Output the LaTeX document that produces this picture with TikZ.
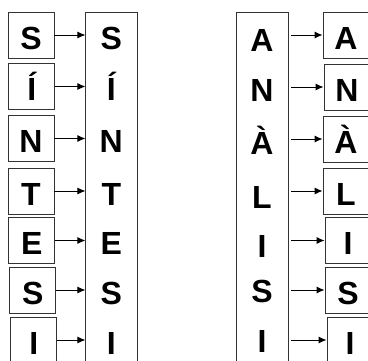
\documentclass[tikz,border=0pt]{standalone}
\usepackage{fontspec}
\setmainfont{Liberation Sans}
\usetikzlibrary{arrows.meta, positioning}

\begin{document}
\begin{tikzpicture}[x=1pt, y=-1pt, >={Latex[length=8pt, width=7pt]},
    letter/.style={font=\fontsize{32}{38}\selectfont\bfseries, text height=28pt, text depth=0pt, inner sep=0pt},
    tile/.style={letter, draw=black!80, line width=0.8pt, minimum width=46pt, minimum height=46pt},
    column/.style={draw=black!80, line width=0.8pt, minimum width=52pt, minimum height=380pt, anchor=north west, inner sep=0pt}]
    \useasboundingbox (0,0) rectangle (368,360);
    \clip (0,0) rectangle (368,360);
    \node[column] (c1) at (85.5,12) {};
    \node[column] (c2) at (236,12) {};
    \node[tile] (s1) at (31,35) {S};
    \node[tile] (s2) at (31.7,86.5) {Í};
    \node[tile] (s3) at (31,138.5) {N};
    \node[tile] (s4) at (31,191) {T};
    \node[tile] (s5) at (31.7,240.5) {E};
    \node[tile] (s6) at (32.7,290) {S};
    \node[tile] (s7) at (33.7,340) {I};
    \node[letter] (t1) at (111.3,35) {S};
    \node[letter] (t2) at (111.3,86.5) {Í};
    \node[letter] (t3) at (111.3,138.5) {N};
    \node[letter] (t4) at (111.3,191) {T};
    \node[letter] (t5) at (111.3,240.5) {E};
    \node[letter] (t6) at (111.3,290) {S};
    \node[letter] (t7) at (111.3,340) {I};
    \node[letter] (u1) at (262,37) {A};
    \node[letter] (u2) at (262,87) {N};
    \node[letter] (u3) at (262,140) {À};
    \node[letter] (u4) at (262,194) {L};
    \node[letter] (u5) at (262,243) {I};
    \node[letter] (u6) at (262,288) {S};
    \node[letter] (u7) at (262,338) {I};
    \node[tile] (a1) at (346,35) {A};
    \node[tile] (a2) at (347,87) {N};
    \node[tile] (a3) at (346,139) {À};
    \node[tile] (a4) at (346,191) {L};
    \node[tile] (a5) at (348,240.5) {I};
    \node[tile] (a6) at (348,290) {S};
    \node[tile] (a7) at (350,340) {I};
    \draw[->, line width=1pt] (s1.east) -- (s1.east -| c1.west);
    \draw[->, line width=1pt] (s2.east) -- (s2.east -| c1.west);
    \draw[->, line width=1pt] (s3.east) -- (s3.east -| c1.west);
    \draw[->, line width=1pt] (s4.east) -- (s4.east -| c1.west);
    \draw[->, line width=1pt] (s5.east) -- (s5.east -| c1.west);
    \draw[->, line width=1pt] (s6.east) -- (s6.east -| c1.west);
    \draw[->, line width=1pt] (s7.east) -- (s7.east -| c1.west);
    \draw[->, line width=1pt, shorten <=2pt] (c2.east |- a1.west) -- (a1.west);
    \draw[->, line width=1pt, shorten <=2pt] (c2.east |- a2.west) -- (a2.west);
    \draw[->, line width=1pt, shorten <=2pt] (c2.east |- a3.west) -- (a3.west);
    \draw[->, line width=1pt, shorten <=2pt] (c2.east |- a4.west) -- (a4.west);
    \draw[->, line width=1pt, shorten <=2pt] (c2.east |- a5.west) -- (a5.west);
    \draw[->, line width=1pt, shorten <=2pt] (c2.east |- a6.west) -- (a6.west);
    \draw[->, line width=1pt, shorten <=2pt] (c2.east |- a7.west) -- (a7.west);
\end{tikzpicture}
\end{document}
